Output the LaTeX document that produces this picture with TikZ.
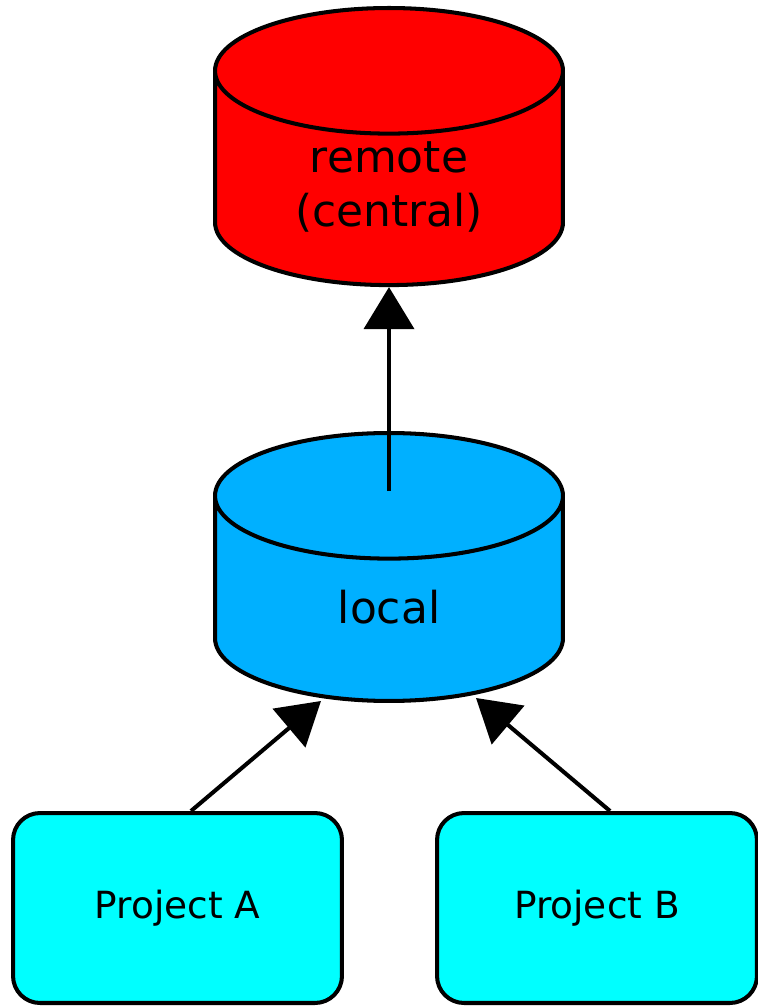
\documentclass[tikz,border=0pt]{standalone}
\usepackage{fontspec}
\setmainfont{DejaVu Sans}
\usetikzlibrary{calc}
\usetikzlibrary{shapes.geometric}
\usetikzlibrary{arrows.meta}
\definecolor{remotered}{RGB}{255,0,0}
\definecolor{localblue}{RGB}{0,176,255}
\definecolor{projectcyan}{RGB}{0,255,255}

\begin{document}
\begin{tikzpicture}[x=0.02cm,y=-0.02cm,
                    line width=2.3pt,
                    my store/.style={
                        draw,
                        cylinder,
                        shape border rotate=90,
                        aspect=0.48,
                        anchor=north,
                        text width=5cm,
                        minimum width=6.96cm,
                        minimum height=5.36cm,
                        align=center,
                        font=\fontsize{25}{31}\selectfont},
                    my project/.style={
                        draw,
                        fill=projectcyan,
                        rectangle,
                        rounded corners=0.54cm,
                        minimum height=3.8cm,
                        font=\fontsize{21.3}{26}\selectfont},
                    my edge/.style={-{Triangle[length=0.84cm,width=1.0cm]}}]
\useasboundingbox (0,0) rectangle (757,1006);
\node[my store,fill=remotered] (remote) at (389,6) {remote\\(central)};
\node[my store,fill=localblue] (local) at (389,431) {local};
\node[my project,minimum width=6.58cm] (projA) at (177.5,908) {Project A};
\node[my project,minimum width=6.4cm] (projB) at (597,908) {Project B};
\coordinate (local lid) at ($(local.north)+(0,60)$); % middle of the top cap
% the pushes: projects into local, local into remote
\draw[my edge] (local lid) -- (remote.south);
\draw[my edge] ([xshift=0.27cm]projA.north) -- ($(local.south)+(-68,-2)$);
\draw[my edge] ([xshift=0.26cm]projB.north) -- ($(local.south)+(87,-5)$);
\end{tikzpicture}
\end{document}
